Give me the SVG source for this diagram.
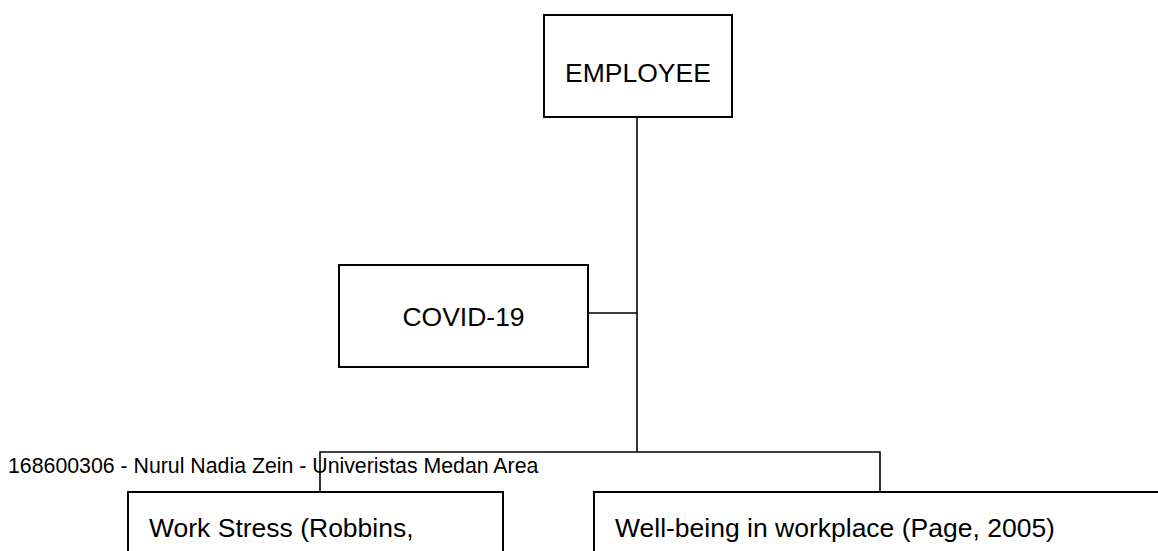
<svg xmlns="http://www.w3.org/2000/svg" width="1158" height="551" viewBox="0 0 1158 551">
<style>
.box{fill:#fff;stroke:#000;stroke-width:2}
.ln{fill:none;stroke:#000;stroke-width:1.6}
.t{font-family:"Liberation Sans",Arial,sans-serif;font-size:26.5px;fill:#000}
.f{font-family:"Liberation Sans",Arial,sans-serif;font-size:21.3px;fill:#000}
</style>
<rect width="1158" height="551" fill="#fff"/>
<g id="connectors">
<path class="ln" d="M637 117V452"/>
<path class="ln" d="M588 313H637"/>
<path class="ln" d="M320 492V452H880V492"/>
</g>
<g id="footer"><text class="f" x="8" y="473">168600306 - Nurul Nadia Zein - Univeristas Medan Area</text></g>
<g id="employee"><rect class="box" x="544" y="15" width="188" height="102"/><text class="t" x="638" y="82" text-anchor="middle">EMPLOYEE</text></g>
<g id="covid"><rect class="box" x="339" y="265" width="249" height="102"/><text class="t" x="463.5" y="326" text-anchor="middle">COVID-19</text></g>
<g id="workstress"><rect class="box" x="128" y="492" width="375" height="80"/><text class="t" x="149" y="537">Work Stress (Robbins,</text></g>
<g id="wellbeing"><rect class="box" x="594" y="492" width="580" height="80"/><text class="t" x="615" y="537">Well-being in workplace (Page, 2005)</text></g>
</svg>
